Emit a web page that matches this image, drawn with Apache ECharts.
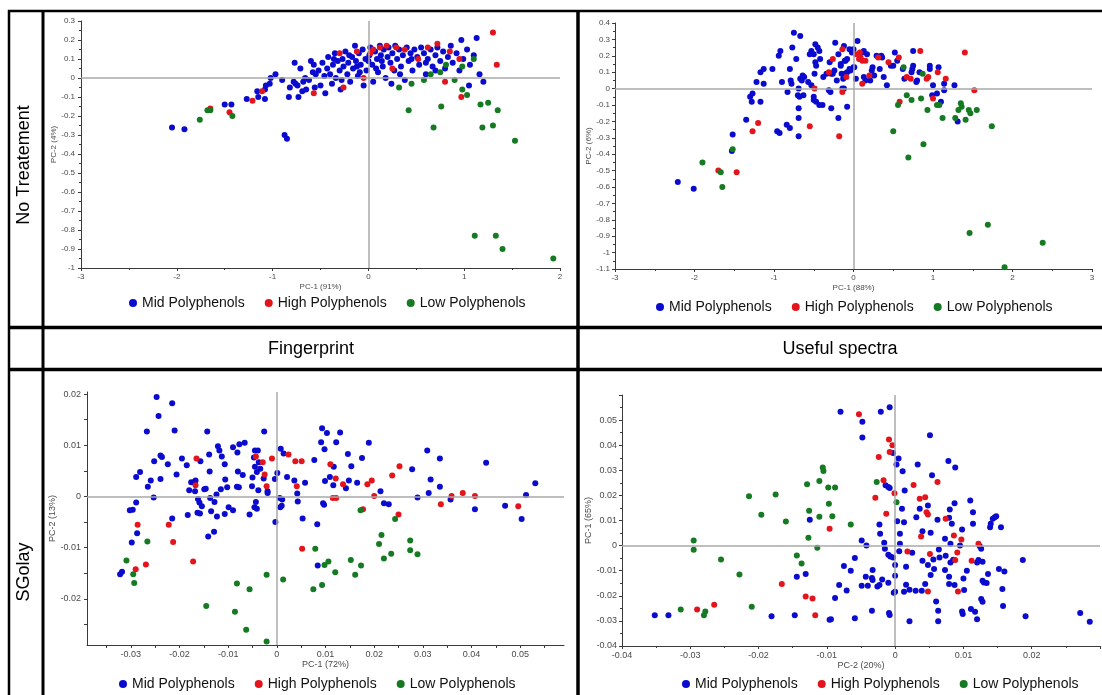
<!DOCTYPE html>
<html>
<head>
<meta charset="utf-8">
<script src="https://cdn.jsdelivr.net/npm/echarts@6/dist/echarts.min.js"></script>
<style>
  html, body { margin: 0; padding: 0; background: #fff; }
  #chart { width: 1102px; height: 695px; }
</style>
</head>
<body>
<div id="chart"></div>
<script>
// ---- categories and titles ----
const groupNames = ['Mid Polyphenols', 'High Polyphenols', 'Low Polyphenols'];
const rowTitles = ['No Treatement', 'SGolay'];
const columnTitles = ['Fingerprint', 'Useful spectra'];
const ntFpAxisNames = ['PC-1 (91%)', 'PC-2 (4%)'];
const ntUsAxisNames = ['PC-1 (88%)', 'PC-2 (6%)'];
const sgFpAxisNames = ['PC-1 (72%)', 'PC-2 (13%)'];
const sgUsAxisNames = ['PC-2 (20%)', 'PC-1 (65%)'];

// ---- tick label values for the SGolay fingerprint panel ----
const sgFpXLabels = [-0.03, -0.02, -0.01, 0, 0.01, 0.02, 0.03, 0.04, 0.05];
const sgFpXTicks = [-0.035, -0.03, -0.025, -0.02, -0.015, -0.01, -0.005, 0, 0.005, 0.01, 0.015, 0.02, 0.025, 0.03, 0.035, 0.04, 0.045, 0.05, 0.055];
const sgFpYLabels = [-0.02, -0.01, 0, 0.01, 0.02];
const sgFpYTicks = [-0.025, -0.02, -0.015, -0.01, -0.005, 0, 0.005, 0.01, 0.015, 0.02];

// ---- No Treatement / Fingerprint scores ----
const ntFpMid = [
  [-2.05,-0.26],[-1.92,-0.27],[-1.5,-0.14],[-1.43,-0.14],[-1.27,-0.11],[-1.16,-0.07],[-1.15,-0.1],[-1.08,-0.11],[-1.08,-0.06],[-1.07,-0.04],
  [-1.02,0.0],[-1.03,-0.03],[-0.97,0.02],[-0.9,-0.01],[-0.875,-0.3],[-0.85,-0.32],[-0.83,-0.1],[-0.82,-0.05],[-0.77,0.08],[-0.78,-0.02],
  [-0.76,-0.03],[-0.74,-0.04],[-0.73,-0.1],[-0.71,0.05],[-0.69,-0.07],[-0.68,-0.02],[-0.65,-0.06],[-0.66,0.0],[-0.62,-0.01],[-0.6,0.09],
  [-0.57,0.07],[-0.58,0.03],[-0.55,0.02],[-0.52,0.04],[-0.5,-0.04],[-0.48,0.08],[-0.46,0.01],[-0.45,-0.08],[-0.43,0.05],[-0.42,0.11],
  [-0.4,0.02],[-0.38,-0.03],[-0.37,0.07],[-0.35,0.13],[-0.34,0.0],[-0.32,0.09],[-0.3,0.04],[-0.29,-0.06],[-0.27,0.1],[-0.26,0.06],
  [-0.24,0.14],[-0.22,0.02],[-0.21,0.08],[-0.19,-0.02],[-0.17,0.11],[-0.16,0.05],[-0.14,0.17],[-0.13,0.09],[-0.11,0.01],[-0.1,0.13],
  [-0.08,0.07],[-0.06,0.15],[-0.05,-0.04],[-0.03,0.1],[-0.02,0.04],[0.01,0.12],[0.02,0.16],[0.04,0.07],[0.05,-0.02],[0.07,0.14],
  [0.09,0.1],[0.1,0.03],[0.12,0.17],[0.13,0.12],[0.15,0.06],[0.16,0.15],[0.18,0.0],[0.2,0.11],[0.21,0.16],[0.23,0.08],
  [0.25,0.13],[0.27,0.04],[0.28,0.17],[0.3,0.1],[0.32,0.15],[0.34,0.06],[0.36,0.12],[0.38,-0.01],[0.4,0.16],[0.42,0.09],
  [0.44,0.13],[0.46,0.04],[0.48,0.15],[0.51,0.11],[0.53,0.07],[0.55,0.16],[0.58,0.13],[0.6,0.02],[0.62,0.1],[0.65,0.15],
  [0.67,0.06],[0.7,0.12],[0.72,0.16],[0.75,0.09],[0.78,0.14],[0.8,0.05],[0.83,0.11],[0.86,0.17],[0.88,0.08],[0.92,0.13],
  [0.95,0.04],[0.97,0.2],[0.99,0.1],[1.03,0.15],[1.06,0.07],[1.1,0.12],[1.13,0.21],[1.16,0.02],[1.2,-0.02],[1.05,-0.04],
  [-0.2,0.12],[0.0,0.09],[0.08,0.05],[-0.09,0.03],[0.14,0.09],[0.33,0.02],[-0.36,0.1],[-0.56,-0.05],[-0.28,-0.01],[0.6,0.08],
  [0.24,-0.03],[-0.12,0.06],[0.45,0.1],[0.7,0.04]
];
const ntFpHigh = [
  [-1.65,-0.16],[-1.45,-0.18],[-1.21,-0.12],[-1.11,-0.07],[-0.57,-0.08],[-0.3,0.13],[-0.26,-0.05],[-0.12,0.14],[0.02,0.13],[0.05,0.15],
  [0.12,0.16],[0.19,0.17],[0.29,0.16],[0.38,0.15],[0.52,0.1],[0.62,0.16],[0.72,0.18],[0.85,0.14],[0.95,0.1],[1.3,0.24],
  [1.34,0.07],[0.8,-0.02],[0.97,-0.1],[0.25,0.05],[-0.05,0.0]
];
const ntFpLow = [
  [-1.76,-0.22],[-1.68,-0.17],[-1.65,-0.17],[-1.42,-0.2],[0.32,-0.05],[0.45,-0.03],[0.58,-0.01],[0.75,0.03],[0.81,0.07],[0.98,0.06],
  [0.42,-0.17],[0.76,-0.15],[0.68,-0.26],[0.98,-0.06],[1.03,-0.09],[1.17,-0.14],[1.25,-0.13],[1.19,-0.26],[1.3,-0.25],[1.35,-0.17],
  [1.53,-0.33],[1.11,-0.83],[1.33,-0.83],[1.4,-0.9],[1.93,-0.95],[0.65,0.02],[1.1,0.1],[0.9,-0.01]
];

// ---- No Treatement / Useful spectra scores ----
const ntUsMid = [
  [-2.21,-0.57],[-2.01,-0.61],[-1.53,-0.38],[-1.52,-0.28],[-1.35,-0.19],[-1.3,-0.05],[-1.27,-0.03],[-1.28,-0.08],[-1.17,-0.08],[-1.22,0.04],
  [-1.13,0.03],[-1.17,0.1],[-1.13,0.12],[-1.02,0.12],[-0.94,0.2],[-0.92,0.23],[-0.9,0.04],[-0.83,-0.02],[-0.8,0.12],[-0.79,0.05],
  [-0.78,0.03],[-0.77,0.25],[-0.75,0.34],[-0.67,0.32],[-0.72,0.18],[-0.67,0.06],[-0.69,0.0],[-0.7,-0.04],[-0.68,-0.05],[-0.63,-0.04],
  [-0.69,-0.12],[-0.69,-0.18],[-0.84,-0.22],[-0.8,-0.24],[-0.96,-0.26],[-0.93,-0.27],[-0.69,-0.29],[-0.65,0.05],[-0.64,0.08],[-0.62,0.07],
  [-0.57,0.04],[-0.53,0.02],[-0.5,-0.05],[-0.5,-0.07],[-0.47,-0.08],[-0.43,-0.1],[-0.39,-0.1],[-0.28,-0.12],[-0.19,-0.18],[-0.08,-0.11],
  [-0.48,0.27],[-0.45,0.25],[-0.43,0.23],[-0.53,0.23],[-0.5,0.21],[-0.55,0.21],[-0.48,0.16],[-0.42,0.18],[-0.47,0.14],[-0.49,0.09],
  [-0.38,0.07],[-0.34,0.09],[-0.28,0.09],[-0.3,0.16],[-0.23,0.28],[-0.31,-0.01],[-0.29,-0.02],[-0.21,0.05],[-0.19,0.21],[-0.12,0.26],
  [-0.15,0.09],[-0.11,0.09],[-0.13,0.06],[-0.16,0.14],[-0.11,0.17],[-0.08,0.18],[-0.05,0.12],[0.0,0.13],[0.03,0.06],[0.05,0.29],
  [-0.14,0.0],[-0.12,0.0],[-0.24,0.11],[-0.26,0.09],[-0.05,0.24],[0.0,0.24],[-0.02,0.22],[0.13,0.23],[0.11,0.22],[0.17,0.21],
  [-0.1,0.17],[-0.16,0.15],[0.01,0.13],[-0.04,0.11],[-0.08,0.1],[0.13,0.07],[0.15,0.05],[0.21,0.05],[0.26,0.08],[0.23,0.11],
  [0.24,0.13],[0.33,0.12],[0.38,0.07],[0.42,0.02],[0.36,0.19],[0.29,0.2],[0.35,0.2],[0.47,0.14],[0.5,0.14],[0.52,0.22],
  [0.55,0.17],[0.62,0.12],[0.64,0.06],[0.73,0.1],[0.74,0.12],[0.75,0.14],[0.75,0.23],[0.83,0.1],[0.79,0.04],[0.8,0.05],
  [0.96,0.14],[0.96,0.12],[1.07,0.13],[1.0,0.02],[0.99,-0.04],[1.05,-0.03],[1.1,-0.08],[1.14,0.03],[1.14,-0.01],[1.27,0.02],
  [1.31,-0.2]
];
const ntUsHigh = [
  [-1.7,-0.5],[-1.47,-0.51],[-1.27,-0.26],[-1.2,-0.21],[-0.49,0.0],[-0.55,-0.23],[-0.18,-0.29],[-0.31,0.1],[-0.26,0.18],[-0.14,0.24],
  [-0.09,0.07],[-0.14,-0.02],[0.08,0.22],[0.09,0.19],[0.03,0.21],[0.07,0.18],[0.11,0.17],[0.15,0.17],[0.11,0.03],[0.2,0.08],
  [0.31,0.19],[0.44,0.16],[0.57,0.19],[0.67,0.07],[0.72,0.06],[0.84,0.23],[0.94,0.07],[0.92,0.06],[1.06,0.1],[1.0,-0.06],
  [1.16,0.06],[1.4,0.22],[1.52,-0.01],[0.58,-0.08]
];
const ntUsLow = [
  [-1.9,-0.45],[-1.67,-0.51],[-1.65,-0.6],[-1.52,-0.37],[0.63,0.13],[0.87,0.09],[0.67,-0.04],[0.73,-0.07],[0.56,-0.1],[0.85,-0.06],
  [0.93,-0.13],[1.05,-0.1],[1.08,-0.1],[1.12,-0.18],[1.35,-0.09],[1.36,-0.11],[1.32,-0.13],[1.45,-0.13],[1.47,-0.15],[1.55,-0.13],
  [1.28,-0.18],[1.41,-0.19],[1.74,-0.23],[0.5,-0.26],[0.88,-0.34],[0.69,-0.42],[1.46,-0.88],[1.69,-0.83],[2.38,-0.94],[1.9,-1.09]
];

// ---- SGolay / Fingerprint scores ----
const sgFpMid = [
  [-0.0247,0.0194],[-0.0243,0.0157],[-0.0215,0.0182],[-0.0267,0.0127],[-0.021,0.0129],[-0.0252,0.0069],[-0.0239,0.008],[-0.0236,0.0077],[-0.0224,0.0063],[-0.0195,0.0074],
  [-0.0185,0.0061],[-0.0281,0.0048],[-0.0289,0.0038],[-0.0259,0.0031],[-0.0265,0.0019],[-0.0239,0.0034],[-0.0206,0.0043],[-0.0253,-0.0002],[-0.0176,0.0028],[-0.0169,0.0029],
  [-0.0167,0.0031],[-0.018,0.0012],[-0.0168,0.001],[-0.0157,0.0069],[-0.0143,0.0127],[-0.0139,0.0082],[-0.0138,0.0049],[-0.0149,0.0014],[-0.0146,0.0015],[-0.0162,-0.0005],
  [-0.0159,-0.0012],[-0.0154,-0.0019],[-0.0163,-0.0032],[-0.0158,-0.0033],[-0.0137,-0.0003],[-0.0128,-0.0011],[-0.0135,-0.0029],[-0.0123,-0.0039],[-0.0129,-0.0069],[-0.0141,-0.0078],
  [-0.0121,0.0098],[-0.0118,0.009],[-0.0113,0.0078],[-0.0107,0.0063],[-0.0124,0.0004],[-0.0115,0.0014],[-0.0106,0.0033],[-0.0102,0.0018],[-0.009,0.0096],[-0.0081,0.0086],
  [-0.0077,0.0102],[-0.0066,0.0105],[-0.008,0.0049],[-0.007,0.0042],[-0.0082,0.0019],[-0.0078,0.0018],[-0.0099,-0.0021],[-0.009,-0.0027],[-0.0107,-0.0034],[-0.0056,-0.0035],
  [-0.0051,0.002],[-0.005,0.0037],[-0.0047,0.0076],[-0.0045,0.009],[-0.0039,0.009],[-0.0037,0.0067],[-0.0034,0.0054],[-0.0045,0.0058],[-0.0041,0.0048],[-0.0038,0.0012],
  [-0.0043,-0.0011],[-0.0046,-0.0021],[-0.0041,-0.0024],[-0.0026,0.0127],[-0.0027,0.0035],[-0.0019,0.0007],[-0.0019,0.001],[-0.0003,-0.005],[-0.0004,0.0034],[0.0001,0.0046],
  [0.0008,0.0093],[0.0014,0.0084],[0.0021,0.0038],[0.0006,-0.0003],[0.0011,-0.0006],[0.001,-0.0018],[0.0007,-0.0021],[0.0036,0.0031],[0.0042,0.0006],[0.0043,-0.001],
  [0.0053,-0.0043],[0.0058,0.0027],[0.0077,0.0071],[0.0083,-0.0054],[0.0093,0.0133],[0.0091,0.0106],[0.0103,0.0124],[0.0098,0.0092],[0.0099,0.003],[0.0109,0.0038],
  [0.0095,-0.0013],[0.0097,-0.0016],[0.0116,0.0022],[0.0117,0.0058],[0.0122,0.0106],[0.013,0.0125],[0.0146,0.0083],[0.0153,0.0059],[0.0175,0.0075],[0.0189,0.0105],
  [0.0148,0.0031],[0.0142,0.0016],[0.0165,0.0027],[0.0213,0.001],[0.022,-0.0013],[0.023,-0.0015],[0.0278,0.0053],[0.0289,-0.0002],[0.0309,0.009],[0.0316,0.0033],
  [0.0312,0.0007],[0.0335,0.0074],[0.0335,0.0019],[0.0357,-0.0006],[0.0407,-0.0025],[0.043,0.0066],[0.0469,-0.0018],[0.0503,-0.0044],[0.0512,0.0003],[0.0531,0.0026],
  [-0.0322,-0.0152],[-0.0318,-0.0147],[-0.0298,-0.009],[-0.0287,-0.0072],[0.0084,-0.0135],[-0.0302,-0.0027],[-0.0296,-0.0026],[-0.0289,-0.0012],[-0.0215,-0.0043],[-0.0183,-0.0036]
];
const sgFpHigh = [
  [-0.0165,0.0074],[-0.0167,0.0022],[-0.0286,-0.0055],[-0.0222,-0.0055],[-0.0213,-0.0089],[-0.0172,-0.0127],[-0.029,-0.0142],[-0.0269,-0.0133],[0.0052,-0.0102],[-0.0043,0.0078],
  [-0.0029,0.0067],[-0.001,0.0074],[-0.0025,0.0043],[-0.0021,0.002],[0.0024,0.0082],[0.0038,0.0069],[0.0051,0.0069],[0.0041,0.002],[0.011,0.0063],[0.0121,0.0035],
  [0.0115,-0.0003],[0.0122,-0.0003],[0.0136,0.0024],[0.0186,0.0024],[0.0195,0.0031],[0.02,0.0001],[0.0237,0.0041],[0.0252,0.0059],[0.0177,-0.0025],[0.025,-0.0035],
  [0.0337,-0.0015],[0.0359,0.0001],[0.0382,0.0007],[0.0407,0.0001],[0.0496,-0.0019]
];
const sgFpLow = [
  [-0.0309,-0.0125],[-0.0295,-0.0152],[-0.0293,-0.0169],[-0.0266,-0.0088],[-0.0145,-0.0214],[-0.0086,-0.0225],[-0.0063,-0.026],[-0.0021,-0.0283],[-0.0082,-0.017],[-0.0056,-0.0181],
  [-0.0021,-0.0153],[0.0013,-0.0162],[0.0075,-0.0181],[0.0093,-0.0173],[0.0098,-0.0134],[0.0106,-0.0127],[0.0079,-0.0102],[0.012,-0.0148],[0.0152,-0.0124],[0.0161,-0.0153],
  [0.0173,-0.0135],[0.021,-0.0093],[0.0215,-0.0075],[0.022,-0.0121],[0.0235,-0.0112],[0.0274,-0.0086],[0.0274,-0.0105],[0.0289,-0.0113],[0.0172,-0.0027],[0.0243,-0.0044]
];

// ---- SGolay / Useful spectra scores (x = PC-2, y = PC-1) ----
const sgUsMid = [
  [-0.0352,-0.0277],[-0.0332,-0.0277],[-0.0181,-0.0281],[-0.0147,-0.0277],[-0.0096,-0.0295],[-0.0094,-0.0293],[-0.0059,-0.0289],[-0.0034,-0.026],[-0.0009,-0.0269],[-0.0008,-0.0276],
  [0.0021,-0.0301],[0.0063,-0.0301],[0.0063,-0.026],[0.006,-0.0223],[0.0098,-0.0263],[0.0099,-0.0273],[0.0111,-0.0253],[0.0117,-0.0264],[0.012,-0.0293],[0.0126,-0.0213],
  [0.0128,-0.0224],[0.0158,-0.0241],[0.0191,-0.0281],[0.0271,-0.0269],[0.0285,-0.0303],[-0.0088,-0.0209],[-0.0082,-0.0157],[-0.0071,-0.0179],[-0.0075,-0.0081],[-0.0065,-0.01],
  [-0.0059,-0.0049],[-0.0049,0.002],[-0.0042,0.0],[-0.0144,-0.0124],[-0.0131,-0.0113],[-0.0125,0.0103],[-0.0049,-0.016],[-0.0043,-0.0124],[-0.004,-0.016],[-0.0034,-0.0129],
  [-0.0033,-0.0097],[-0.0033,-0.0137],[-0.0026,-0.0163],[-0.0023,-0.0157],[-0.0019,-0.0135],[-0.001,-0.0148],[-0.0016,0.0011],[-0.0015,-0.0013],[-0.001,-0.0036],[-0.0007,-0.0043],
  [-0.0003,-0.0047],[0.0,-0.0077],[0.0,-0.012],[0.0,-0.0184],[-0.0002,-0.0188],[-0.0023,0.0084],[-0.0022,0.0047],[-0.0014,0.024],[-0.001,0.0233],[-0.0008,0.0229],
  [-0.0003,0.0369],[0.0005,0.0347],[0.0002,0.0323],[0.0011,0.0296],[0.0014,0.022],[0.001,0.0147],[0.0013,0.0093],[0.0003,0.0097],[0.0007,0.0047],[0.0007,0.0007],
  [0.0006,-0.0023],[0.0016,-0.0084],[0.0016,-0.0156],[0.0013,-0.0184],[0.0021,-0.0176],[0.003,-0.018],[0.0039,-0.018],[0.0025,-0.0028],[0.0031,0.0113],[0.0033,0.0323],
  [0.0036,0.0147],[0.004,0.0057],[0.004,-0.006],[0.0044,-0.0153],[0.0048,-0.0077],[0.0048,0.016],[0.0051,0.044],[0.0054,0.028],[0.0052,0.0051],[0.0052,-0.0117],
  [0.0056,-0.0055],[0.0057,-0.0093],[0.0062,0.0103],[0.0064,-0.0016],[0.0065,-0.0047],[0.0073,-0.0097],[0.0073,0.0027],[0.0074,-0.004],[0.0078,0.0337],[0.0079,0.0111],
  [0.008,0.0144],[0.0079,-0.0124],[0.0079,-0.0153],[0.0081,0.0007],[0.0083,0.0087],[0.0081,-0.0067],[0.0085,-0.0056],[0.0088,0.0311],[0.0087,0.0169],[0.0087,-0.0157],
  [0.0095,0.0],[0.0098,0.0064],[0.01,-0.0131],[0.0101,-0.0177],[0.0105,-0.01],[0.011,0.018],[0.0114,0.0133],[0.0114,0.0087],[0.0124,-0.0003],[0.0126,-0.0013],
  [0.012,-0.0067],[0.0122,-0.0057],[0.0128,-0.0064],[0.0128,-0.014],[0.013,-0.0147],[0.0134,-0.0149],[0.0136,-0.0113],[0.0139,0.0073],[0.014,0.0087],[0.0143,0.0107],
  [0.0146,0.0113],[0.0148,0.0117],[0.0155,0.0073],[0.0152,-0.0093],[0.0157,-0.0173],[0.016,-0.0103],[0.0187,-0.0057],[-0.008,0.0533],[-0.0048,0.0493],[-0.0048,0.0431],
  [-0.0021,0.0533],[-0.0008,0.0551]
];
const sgUsHigh = [
  [-0.0053,0.0523],[-0.0009,0.0423],[-0.0004,0.04],[-0.0008,0.0373],[-0.0024,0.0353],[-0.0017,0.026],[-0.0029,0.0191],[-0.0013,0.0127],[-0.0001,0.0209],[-0.0096,0.0067],
  [-0.0166,-0.0153],[-0.0131,-0.0203],[-0.0121,-0.0211],[-0.0117,-0.0277],[-0.029,-0.0255],[-0.0265,-0.0236],[0.0027,0.0241],[0.0062,0.0253],[0.0036,0.0187],[0.0044,0.0193],
  [0.0046,0.0133],[0.0048,0.0124],[0.0038,0.0036],[0.0074,0.0107],[0.0086,0.004],[0.0097,0.0024],[0.0122,0.0007],[0.0091,-0.0027],[0.0018,-0.0024],[0.0051,-0.0033],
  [0.0088,-0.0057],[0.0112,-0.006],[0.0048,-0.0183],[0.0092,-0.0183]
];
const sgUsLow = [
  [-0.0106,0.0311],[-0.0105,0.0297],[-0.0111,0.0257],[-0.0129,0.0244],[-0.0098,0.0231],[-0.0088,0.0231],[-0.0027,0.0253],[-0.0214,0.0197],[-0.0175,0.0204],[-0.0196,0.0123],
  [-0.016,0.0096],[-0.0126,0.0139],[-0.0111,0.0115],[-0.0097,0.0167],[-0.0092,0.0117],[-0.0065,0.0084],[-0.0127,0.0031],[-0.0114,-0.0009],[0.0002,0.0173],[-0.0295,0.002],
  [-0.0295,-0.0017],[-0.0255,-0.0055],[-0.0228,-0.0115],[-0.0144,-0.0039],[-0.0137,-0.0071],[-0.021,-0.0244],[-0.0314,-0.0255],[-0.0278,-0.0263],[-0.028,-0.0277]
];

// ---- drawing ----
const FONT = '"Liberation Sans", Arial, Helvetica, sans-serif';
const AXIS_COLOR = '#3a3a3a';
const LABEL_COLOR = '#4a4a4a';
const GROUP_COLORS = ['#0b0bcf', '#e3141c', '#157a22'];

const panels = [
  { grid: { left: 81, top: 21, width: 479, height: 247 },
    x: { min: -3, max: 2, interval: 1, name: ntFpAxisNames[0], nameGap: 15, margin: 5 },
    y: { min: -1, max: 0.3, interval: 0.1, name: ntFpAxisNames[1], nameGap: 22, margin: 6 },
    font: 8, data: [ntFpMid, ntFpHigh, ntFpLow], legend: { left: 129, top: 296 } },
  { grid: { left: 615, top: 23, width: 477, height: 246 },
    x: { min: -3, max: 3, interval: 1, name: ntUsAxisNames[0], nameGap: 15, margin: 5 },
    y: { min: -1.1, max: 0.4, interval: 0.1, name: ntUsAxisNames[1], nameGap: 22, margin: 5 },
    font: 8, data: [ntUsMid, ntUsHigh, ntUsLow], legend: { left: 656, top: 300 } },
  { grid: { left: 87, top: 392, width: 477, height: 253 },
    x: { min: -0.039, max: 0.059, name: sgFpAxisNames[0], nameGap: 15, margin: 5, labelValues: sgFpXLabels, tickValues: sgFpXTicks },
    y: { min: -0.029, max: 0.0204, name: sgFpAxisNames[1], nameGap: 27, margin: 6, labelValues: sgFpYLabels, tickValues: sgFpYTicks },
    font: 9, data: [sgFpMid, sgFpHigh, sgFpLow], legend: { left: 119, top: 677 } },
  { grid: { left: 622, top: 395, width: 478, height: 251 },
    x: { min: -0.04, max: 0.03, interval: 0.01, name: sgUsAxisNames[0], nameGap: 14, margin: 5, showMax: false },
    y: { min: -0.04, max: 0.06, interval: 0.01, name: sgUsAxisNames[1], nameGap: 26, margin: 5, showMax: false },
    font: 9, data: [sgUsMid, sgUsHigh, sgUsLow], legend: { left: 682, top: 677 } }
];

function valueAxis(i, a, fontSize, position) {
  const custom = !!a.tickValues;
  const axis = {
    type: 'value', gridIndex: i, position,
    min: a.min, max: a.max,
    name: a.name, nameLocation: 'middle', nameGap: a.nameGap,
    nameTextStyle: { fontFamily: FONT, fontSize, color: LABEL_COLOR },
    axisLine: { show: true, onZero: false, lineStyle: { color: AXIS_COLOR, width: 1 } },
    axisTick: { show: true, length: 3, lineStyle: { color: AXIS_COLOR, width: 1 } },
    minorTick: { show: !custom, splitNumber: 2, length: 2, lineStyle: { color: AXIS_COLOR, width: 1 } },
    axisLabel: { fontFamily: FONT, fontSize, color: LABEL_COLOR, margin: a.margin },
    splitLine: { show: false }
  };
  if (a.interval) axis.interval = a.interval;
  if (a.showMax === false) axis.axisLabel.showMaxLabel = false;
  if (custom) {
    axis.axisTick.customValues = a.tickValues;
    axis.axisLabel.customValues = a.labelValues;
  }
  return axis;
}

const grids = [], xAxes = [], yAxes = [], series = [], legends = [];
panels.forEach((p, i) => {
  grids.push(Object.assign({ containLabel: false }, p.grid));
  xAxes.push(valueAxis(i, p.x, p.font, 'bottom'));
  yAxes.push(valueAxis(i, p.y, p.font, 'left'));
  // zero cross lines
  series.push({
    type: 'scatter', name: 'zero-lines', xAxisIndex: i, yAxisIndex: i,
    data: [[0, 0]], symbolSize: 0, z: 1, silent: true,
    markLine: {
      silent: true, symbol: 'none', animation: false,
      label: { show: false },
      lineStyle: { color: '#a9a9a9', width: 1.5, type: 'solid' },
      data: [{ xAxis: 0 }, { yAxis: 0 }]
    }
  });
  p.data.forEach((d, g) => {
    series.push({
      type: 'scatter', name: groupNames[g], xAxisIndex: i, yAxisIndex: i,
      data: d, symbol: 'circle', symbolSize: 6, z: 3, silent: true,
      itemStyle: { color: GROUP_COLORS[g], opacity: 1 }
    });
  });
  legends.push({
    data: groupNames, left: p.legend.left, top: p.legend.top, orient: 'horizontal',
    icon: 'circle', itemWidth: 8, itemHeight: 8, itemGap: 20, padding: 0,
    selectedMode: false,
    textStyle: { fontFamily: FONT, fontSize: 14, color: '#111' }
  });
});

// table frame
const frameLines = [
  [8, 11, 1102, 11, 2.5],
  [9, 10, 9, 695, 2.5],
  [43, 10, 43, 695, 3],
  [578, 10, 578, 695, 3.5],
  [8, 327.5, 1102, 327.5, 3.5],
  [8, 369.5, 1102, 369.5, 3.5]
];
const graphics = frameLines.map(l => ({
  type: 'line', silent: true, z: 10,
  shape: { x1: l[0], y1: l[1], x2: l[2], y2: l[3] },
  style: { stroke: '#000', lineWidth: l[4] }
}));
function caption(text, x, y, rotation) {
  return {
    type: 'text', x, y, rotation: rotation || 0, silent: true, z: 10,
    style: { text, font: '18px ' + FONT, fill: '#000',
      align: 'center', verticalAlign: 'middle', textAlign: 'center', textVerticalAlign: 'middle' }
  };
}
graphics.push(caption(rowTitles[0], 24, 165, Math.PI / 2));
graphics.push(caption(rowTitles[1], 24, 572, Math.PI / 2));
graphics.push(caption(columnTitles[0], 311, 349));
graphics.push(caption(columnTitles[1], 840, 349));

const chart = echarts.init(document.getElementById('chart'), null, { renderer: 'canvas' });
chart.setOption({
  animation: false,
  backgroundColor: '#fff',
  grid: grids,
  xAxis: xAxes,
  yAxis: yAxes,
  legend: legends,
  series,
  graphic: graphics
});
</script>
</body>
</html>
